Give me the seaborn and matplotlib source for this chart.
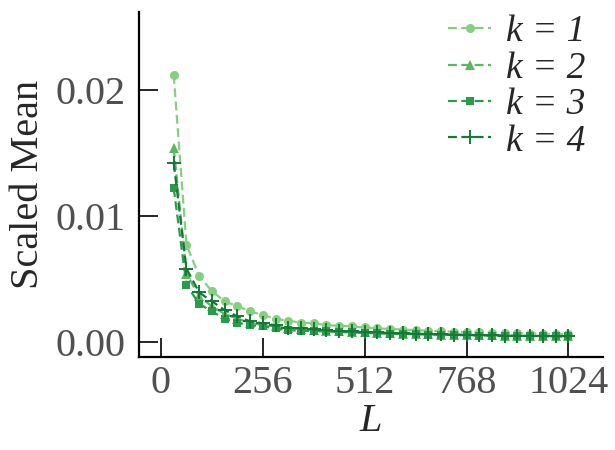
import matplotlib
matplotlib.use("Agg")
import matplotlib.pyplot as plt
import seaborn as sns
import pandas as pd

L = [32, 64, 96, 128, 160, 192, 224, 256, 288, 320, 352, 384, 416, 448, 480, 512,
     544, 576, 608, 640, 672, 704, 736, 768, 800, 832, 864, 896, 928, 960, 992, 1024]
k1 = [0.0212, 0.0077, 0.0052, 0.0040, 0.0032, 0.0028, 0.0024, 0.0021, 0.0018, 0.00165,
      0.0015, 0.00145, 0.0013, 0.00125, 0.0012, 0.00112, 0.00105, 0.0010, 0.00095, 0.0009,
      0.00086, 0.00082, 0.00078, 0.00075, 0.00072, 0.0007, 0.00067, 0.00065, 0.00063,
      0.00061, 0.00059, 0.00057]
k2 = [0.0154, 0.0054, 0.0036, 0.0028, 0.0022, 0.0018, 0.0015, 0.0013, 0.0012, 0.00105,
      0.00098, 0.0009, 0.00086, 0.0008, 0.00076, 0.00072, 0.00068, 0.00065, 0.00062, 0.0006,
      0.00057, 0.00055, 0.00053, 0.00051, 0.00049, 0.00048, 0.00046, 0.00045, 0.00044,
      0.00043, 0.00042, 0.00041]
k3 = [0.0122, 0.0045, 0.0030, 0.0024, 0.0018, 0.0015, 0.0013, 0.0012, 0.00105, 0.0009,
      0.00086, 0.00083, 0.0008, 0.00076, 0.00072, 0.00068, 0.00065, 0.00062, 0.0006, 0.00057,
      0.00055, 0.00053, 0.00051, 0.00049, 0.00047, 0.00046, 0.00045, 0.00044, 0.00043,
      0.00042, 0.00041, 0.0004]
k4 = [0.0142, 0.0058, 0.0039, 0.0032, 0.0025, 0.0020, 0.0016, 0.00145, 0.0013, 0.0011,
      0.00105, 0.00097, 0.0009, 0.00085, 0.0008, 0.00076, 0.00072, 0.00068, 0.00065, 0.00062,
      0.0006, 0.00057, 0.00055, 0.00053, 0.00051, 0.00049, 0.00047, 0.00046, 0.00045,
      0.00044, 0.00043, 0.00042]
series_labels = ["k = 1", "k = 2", "k = 3", "k = 4"]
x_ticks = [0, 256, 512, 768, 1024]
y_ticks = [0.00, 0.01, 0.02]

sns.set_theme(style="ticks")
plt.rcParams["font.family"] = ["Liberation Serif", "DejaVu Serif"]

colors = ["#86cf80", "#5db761", "#2c9a4c", "#137a36"]
markers = ["o", "^", "s", "+"]
msizes = [6.5, 7, 6, 10]

fig = plt.figure(figsize=(6.15, 4.5), dpi=100)
ax = fig.add_axes([0.2265, 0.2073, 0.754, 0.766])

for vals, lab, c, m, ms in zip([k1, k2, k3, k4], series_labels, colors, markers, msizes):
    df = pd.DataFrame({"L": L, "v": vals})
    sns.lineplot(data=df, x="L", y="v", ax=ax, color=c, marker=m, markersize=ms,
                 linestyle=(0, (4, 2)), linewidth=1.6,
                 markeredgewidth=1.4 if m == "+" else 0,
                 markeredgecolor=c, label=lab)

ax.set_xlim(-54.5, 1111)
ax.set_ylim(-0.00121, 0.02621)
ax.set_xticks(x_ticks)
ax.set_yticks(y_ticks)
ax.set_yticklabels([f"{v:.2f}" for v in y_ticks])
ax.tick_params(direction="in", length=14, width=1.4, labelsize=29, labelcolor="#505050")
ax.tick_params(axis="y", pad=10)
ax.tick_params(axis="x", pad=6)
for s in ["left", "bottom"]:
    ax.spines[s].set_linewidth(1.6)
    ax.spines[s].set_color("black")
sns.despine(ax=ax)

ax.set_xlabel("L", fontsize=29, fontstyle="italic", labelpad=1)
ax.set_ylabel("Scaled Mean", fontsize=29, labelpad=6)

leg = ax.legend(loc="upper right", frameon=False, fontsize=27, handlelength=1.15,
                handletextpad=0.4, labelspacing=0.05, borderaxespad=0.0,
                bbox_to_anchor=(0.995, 1.035))
for t in leg.get_texts():
    t.set_fontstyle("italic")

fig.savefig("out.png", dpi=100)
